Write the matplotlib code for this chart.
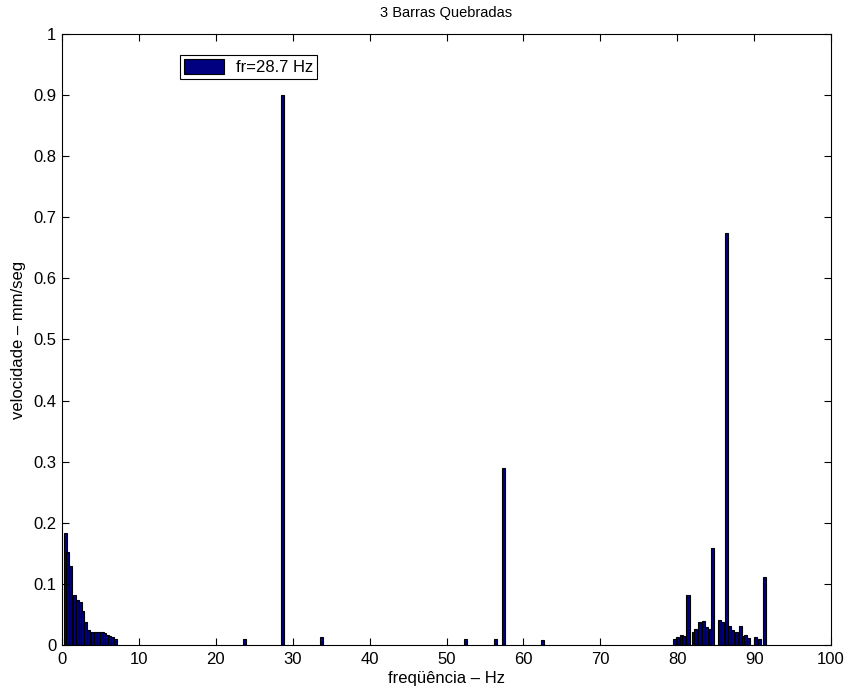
import matplotlib
matplotlib.use("Agg")
import matplotlib.pyplot as plt

# spectral lines (Hz, mm/s)
low_freq = [0.4, 0.75, 1.15, 1.6, 2.0, 2.35, 2.7, 3.05, 3.4, 4.0, 4.4, 4.8,
            5.2, 5.5, 5.85, 6.2, 6.6, 6.95]
low_vel = [0.183, 0.152, 0.129, 0.082, 0.073, 0.071, 0.055, 0.037, 0.024,
           0.022, 0.022, 0.021, 0.021, 0.019, 0.016, 0.014, 0.013, 0.010]

mid_freq = [23.7, 28.7, 33.7, 52.5, 56.4, 57.4, 62.5]
mid_vel = [0.010, 0.900, 0.013, 0.009, 0.010, 0.290, 0.008]

high_freq = [79.7, 80.0, 80.6, 80.8, 81.4, 82.1, 82.4, 82.9, 83.4, 83.8,
             84.3, 84.6, 85.5, 85.9, 86.4, 86.8, 87.2, 87.7, 88.2, 88.6,
             88.9, 89.3, 90.2, 90.7, 91.4]
high_vel = [0.010, 0.013, 0.016, 0.014, 0.082, 0.022, 0.026, 0.037, 0.039,
            0.029, 0.026, 0.158, 0.041, 0.038, 0.675, 0.031, 0.024, 0.021,
            0.031, 0.015, 0.016, 0.011, 0.013, 0.010, 0.111]

freqs = low_freq + mid_freq + high_freq
vels = low_vel + mid_vel + high_vel

plt.rcParams["font.family"] = ["Liberation Sans", "DejaVu Sans"]
plt.rcParams["font.size"] = 12

fig = plt.figure(figsize=(8.51, 6.93), dpi=100)
ax = fig.add_axes([0.0729, 0.0693, 0.9036, 0.8817])

ax.bar(freqs, vels, width=0.4, color="#000080", edgecolor="black",
       linewidth=0.8, label="fr=28.7 Hz")

ax.set_xlim(0, 100)
ax.set_ylim(0, 1)
ax.set_xticks(range(0, 101, 10))
ax.set_yticks([i / 10 for i in range(11)])
ax.set_yticklabels(["0"] + [f"{i / 10:g}" for i in range(1, 10)] + ["1"])
ax.tick_params(direction="in", top=True, right=True, length=5, width=0.8,
               labelsize=12)
ax.tick_params(axis="x", pad=5)
ax.tick_params(axis="y", pad=4)
for s in ax.spines.values():
    s.set_linewidth(0.8)

ax.set_xlabel("freqüência – Hz", fontsize=12, labelpad=3)
ax.set_ylabel("velocidade – mm/seg", fontsize=12, labelpad=5)
ax.set_title("3 Barras Quebradas", fontsize=10.5, pad=12)

leg = ax.legend(loc="upper left", bbox_to_anchor=(0.153, 0.966), borderaxespad=0,
                fancybox=False, framealpha=1, edgecolor="black", fontsize=12,
                handlelength=2.4, handleheight=1.0, borderpad=0.25,
                handletextpad=0.7)
leg.get_frame().set_linewidth(0.8)

fig.savefig("out.png", dpi=100)
